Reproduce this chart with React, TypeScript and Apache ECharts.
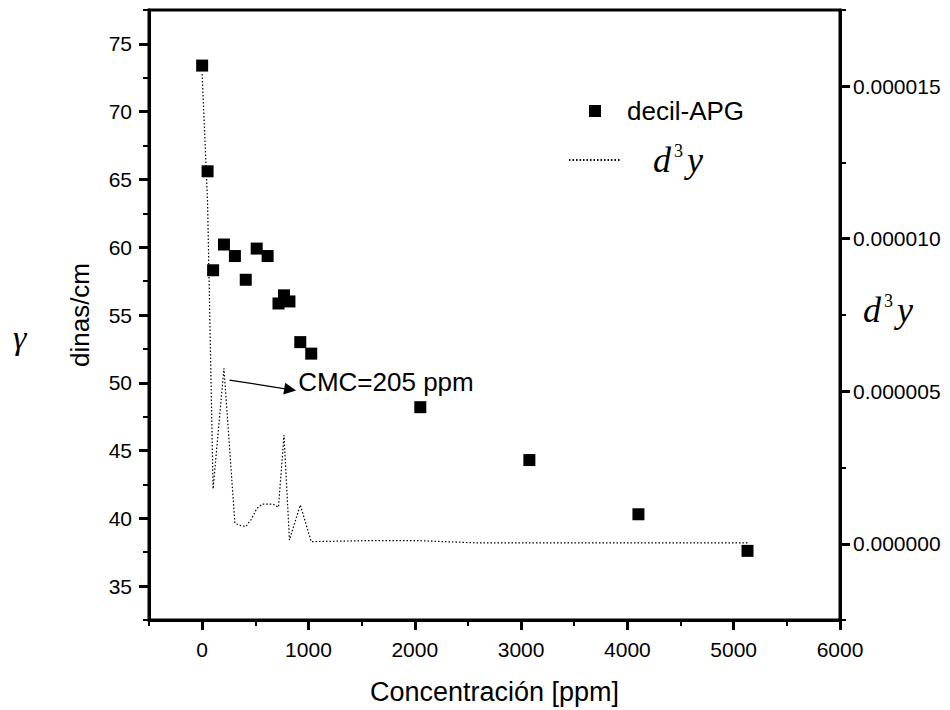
import React, { useEffect, useRef } from 'react';
import * as echarts from 'echarts';

// Surface tension of decyl-APG solutions (dinas/cm) vs concentration (ppm)
const concentrationPpm = [0, 51, 103, 205, 308, 410, 513, 616, 718, 770, 821, 923, 1026, 2052, 3078, 4104, 5130];
const surfaceTension = [73.4, 65.6, 58.3, 60.2, 59.35, 57.6, 59.9, 59.35, 55.85, 56.45, 56.0, 53.0, 52.15, 48.2, 44.3, 40.3, 37.6];

// Third derivative of the tension curve (right axis)
const derivPpm = [0, 51, 103, 205, 308, 357, 410, 462, 513, 565, 616, 667, 718, 770, 821, 923, 1026, 1539, 2052, 2565, 3078, 4104, 5130];
const derivValue = [
  1.54e-5, 1.12e-5, 1.8e-6, 5.75e-6, 6.7e-7, 6.0e-7, 5.6e-7, 8.0e-7, 1.15e-6, 1.3e-6, 1.3e-6, 1.3e-6,
  1.2e-6, 3.56e-6, 1.2e-7, 1.27e-6, 7e-8, 1e-7, 1e-7, 3e-8, 3e-8, 3e-8, 3e-8,
];

// Axis ticks
const xMajorTicks = [0, 1000, 2000, 3000, 4000, 5000, 6000];
const leftMajorTicks = [35, 40, 45, 50, 55, 60, 65, 70, 75];
const rightMajorTicks = [0, 0.000005, 0.00001, 0.000015];

// CMC annotation: arrow (ppm, dinas/cm) and where its caption starts
const cmcArrowFrom = [257, 50.2];
const cmcArrowTo = [828, 49.5];
const cmcLabelAt = [903, 50.05];
const cmcLabel = 'CMC=205 ppm';

const sans = '"Liberation Sans", Arial, Helvetica, sans-serif';
const serif = '"Liberation Serif", "Times New Roman", serif';
const black = '#000';

const d3yRich = {
  d: { fontFamily: serif, fontStyle: 'italic', fontSize: 36, color: black },
  dp: { fontFamily: serif, fontStyle: 'italic', fontSize: 36, color: black, padding: [0, 0, 0, 27] },
  s: { fontFamily: serif, fontSize: 18, color: black, verticalAlign: 'top', padding: [0, 4, 0, 3] },
};

export default function App() {
  const ref = useRef<HTMLDivElement>(null);

  useEffect(() => {
    if (!ref.current) return;
    const chart = echarts.init(ref.current, undefined, { renderer: 'svg' });

    const axisLine = { show: true, onZero: false, lineStyle: { color: black, width: 3 } };
    const noSplit = { show: false };

    const option: any = {
      animation: false,
      backgroundColor: '#fff',
      grid: {
        left: 149,
        right: 110,
        top: 10,
        bottom: 90,
        outerBoundsMode: 'none',
        containLabel: false,
        show: true,
        borderColor: black,
        borderWidth: 3,
        backgroundColor: 'transparent',
      },
      legend: [
        {
          data: ['decil-APG'],
          left: 589,
          top: 98,
          padding: 0,
          itemWidth: 12,
          itemHeight: 12,
          selectedMode: false,
          formatter: () => '{t|decil-APG}',
          textStyle: {
            rich: { t: { fontFamily: sans, fontSize: 26, color: black, lineHeight: 30, padding: [0, 0, 0, 21] } },
          },
        },
        {
          data: ['d3y'],
          left: 568,
          top: 142,
          padding: 0,
          itemWidth: 52,
          itemHeight: 14,
          selectedMode: false,
          itemStyle: { opacity: 0 },
          formatter: () => '{dp|d}{s|3}{d|y}',
          textStyle: { rich: d3yRich },
        },
      ],
      xAxis: [
        {
          type: 'value',
          position: 'bottom',
          min: -500,
          max: 6000,
          interval: 500,
          axisLine,
          splitLine: noSplit,
          axisTick: { show: true, length: 6, lineStyle: { color: black, width: 2 } },
          axisLabel: {
            customValues: xMajorTicks,
            formatter: (v: number) => String(v),
            fontFamily: sans,
            fontSize: 21,
            color: black,
            margin: 19,
          },
          name: 'Concentración [ppm]',
          nameLocation: 'middle',
          nameGap: 58,
          nameMoveOverlap: false,
          nameTextStyle: { fontFamily: sans, fontSize: 27, color: black },
        },
        {
          type: 'value',
          position: 'bottom',
          min: -500,
          max: 6000,
          interval: 500,
          axisLine: { show: false, onZero: false },
          splitLine: noSplit,
          axisTick: { show: true, customValues: xMajorTicks, length: 10, lineStyle: { color: black, width: 3 } },
          axisLabel: { show: false },
        },
      ],
      yAxis: [
        {
          type: 'value',
          position: 'left',
          min: 32.5,
          max: 77.5,
          interval: 2.5,
          axisLine,
          splitLine: noSplit,
          axisTick: { show: true, length: 6, lineStyle: { color: black, width: 2 } },
          axisLabel: {
            customValues: leftMajorTicks,
            formatter: (v: number) => String(v),
            fontFamily: sans,
            fontSize: 21,
            color: black,
            margin: 17,
          },
          name: 'dinas/cm',
          nameLocation: 'middle',
          nameGap: 56,
          nameMoveOverlap: false,
          nameTextStyle: { fontFamily: sans, fontSize: 26, color: black },
        },
        {
          type: 'value',
          position: 'left',
          min: 32.5,
          max: 77.5,
          interval: 2.5,
          axisLine: { show: false, onZero: false },
          splitLine: noSplit,
          axisTick: { show: true, customValues: leftMajorTicks, length: 10, lineStyle: { color: black, width: 3 } },
          axisLabel: { show: false },
        },
        {
          type: 'value',
          position: 'right',
          min: -0.0000025,
          max: 0.0000175,
          interval: 0.0000025,
          axisLine,
          splitLine: noSplit,
          axisTick: { show: true, length: 6, lineStyle: { color: black, width: 2 } },
          axisLabel: {
            customValues: rightMajorTicks,
            formatter: (v: number) => v.toFixed(6),
            fontFamily: sans,
            fontSize: 21,
            color: black,
            margin: 13,
          },
          name: '{d|d}{s|3}{d|y}',
          nameLocation: 'middle',
          nameRotate: 0,
          nameGap: 23,
          nameMoveOverlap: false,
          nameTextStyle: { rich: d3yRich, padding: [0, 0, 10, 0] },
        },
        {
          type: 'value',
          position: 'right',
          min: -0.0000025,
          max: 0.0000175,
          interval: 0.0000025,
          axisLine: { show: false, onZero: false },
          splitLine: noSplit,
          axisTick: { show: true, customValues: rightMajorTicks, length: 10, lineStyle: { color: black, width: 3 } },
          axisLabel: { show: false },
        },
      ],
      graphic: [
        {
          type: 'text',
          left: 13,
          top: 320,
          style: { text: 'γ', font: `italic 34px ${serif}`, fill: black },
        },
      ],
      series: [
        {
          name: 'decil-APG',
          type: 'scatter',
          xAxisIndex: 0,
          yAxisIndex: 0,
          symbol: 'rect',
          symbolSize: 12,
          itemStyle: { color: black, opacity: 1 },
          data: concentrationPpm.map((c, i) => [c, surfaceTension[i]]),
          z: 3,
          markLine: {
            silent: true,
            symbol: ['none', 'triangle'],
            symbolSize: 12,
            itemStyle: { color: black },
            lineStyle: { color: black, width: 1.2, type: 'solid', opacity: 1 },
            label: { show: false },
            data: [[{ coord: cmcArrowFrom }, { coord: cmcArrowTo }]],
          },
          markPoint: {
            silent: true,
            symbol: 'circle',
            symbolSize: 0,
            itemStyle: { color: 'transparent' },
            label: {
              show: true,
              position: 'right',
              distance: 0,
              formatter: cmcLabel,
              fontFamily: sans,
              fontSize: 26,
              color: black,
            },
            data: [{ coord: cmcLabelAt }],
          },
        },
        {
          name: 'd3y',
          type: 'line',
          xAxisIndex: 0,
          yAxisIndex: 2,
          symbol: 'none',
          lineStyle: { color: black, width: 1.2, type: [1.5, 2] },
          itemStyle: { color: black },
          data: derivPpm.map((c, i) => [c, derivValue[i]]),
          z: 2,
        },
      ],
    };

    chart.setOption(option);
    return () => chart.dispose();
  }, []);

  return (
    <div
      ref={ref}
      style={{ position: 'fixed', left: 0, top: 0, width: 950, height: 710, background: '#fff' }}
    />
  );
}
